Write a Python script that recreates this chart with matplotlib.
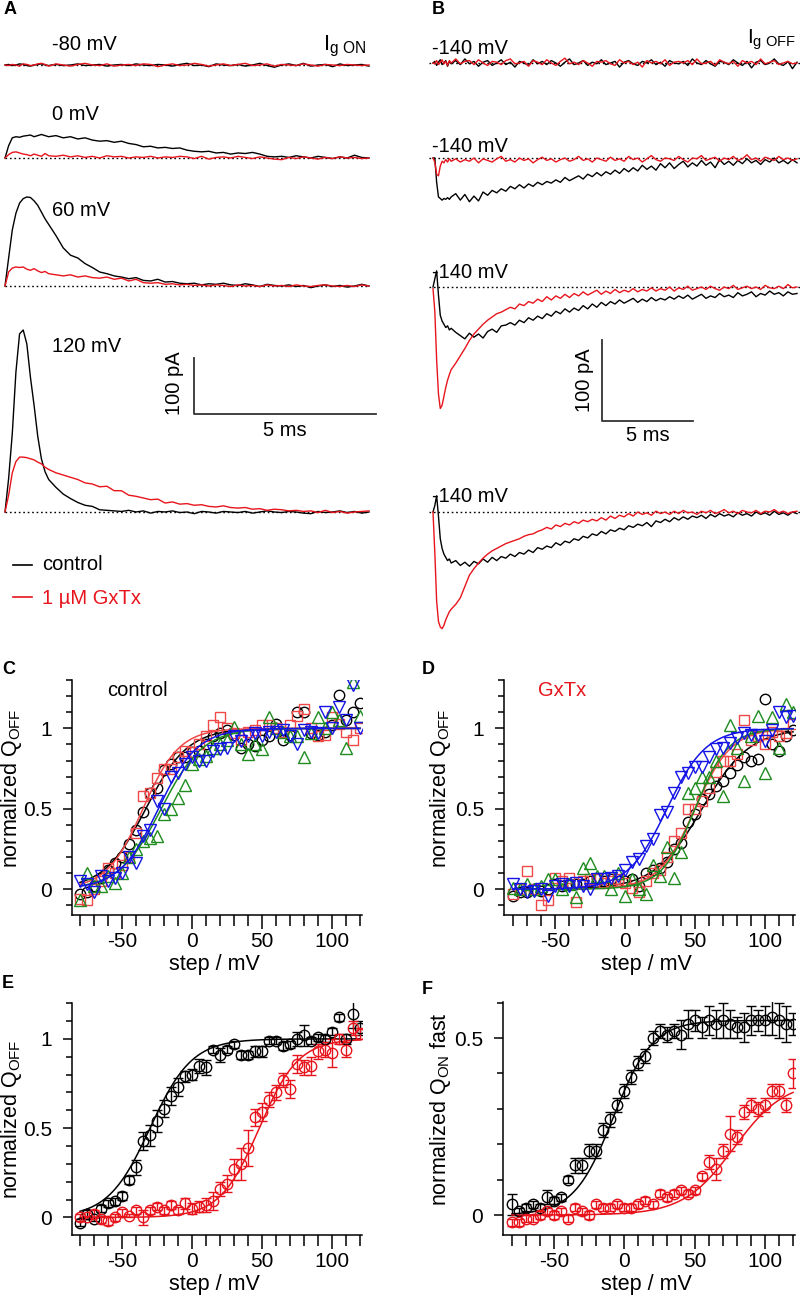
import numpy as np
import matplotlib
matplotlib.use("Agg")
import matplotlib.pyplot as plt
from matplotlib.lines import Line2D
from matplotlib.ticker import FixedLocator, MultipleLocator, FuncFormatter

plt.rcParams['font.family'] = ['Liberation Sans', 'DejaVu Sans']
plt.rcParams['mathtext.fontset'] = 'custom'
plt.rcParams['mathtext.rm'] = 'Liberation Sans'
plt.rcParams['mathtext.it'] = 'Liberation Sans:italic'
plt.rcParams['mathtext.bf'] = 'Liberation Sans:bold'
plt.rcParams['axes.unicode_minus'] = False

# ======================= DATA =======================
# ---- Panel A: gating currents ON (ms, pA) ----
tA = np.r_[np.arange(0, 1.25, 0.1), np.arange(1.4, 10.01, 0.2)]
A_labels = ['-80 mV', '0 mV', '60 mV', '120 mV']

A_m80_ctrl = [0, 1, -1, 0, 2, 1, -1, -2, 0, 1, 2, 0, -1,
              1, -1, 0, 2, -1, 0, 1, -2, 0, 1, -1, 2, 0, -1, 1, 0, -2, 1, 3, -1,
              0, -3, 2, 0, -1, 1, -2, 0, 3, -1, -4, 0, 2, -1, 3, -2, 0, 1, -3, 2,
              -1, 0, 1, -2]
A_m80_gx = [0, -1, 1, 0, -2, 2, 1, -1, 0, 2, 3, 1, -2,
            2, 0, -2, 1, 3, 0, -1, 2, -2, 0, 1, -1, 2, 1, -3, 0, 2, -1, 0, 3,
            1, -2, 0, 2, -1, 1, 3, -1, 0, 2, -2, 1, 0, -1, 2, 0, -2, 1, 0, -1,
            1, 0, -1, 0]
A_0_ctrl = [0, 22, 36, 38, 37, 39, 40, 41, 38, 40, 42, 40, 38,
            40, 36, 38, 34, 36, 32, 30, 31, 28, 30, 26, 24, 20, 21, 18, 19, 17,
            18, 14, 12, 11, 12, 9, 10, 7, 9, 8, 10, 7, 3, 2, 3, 1, 4, 2, 0, 3,
            1, -1, 2, 0, 5, 1, 0]
A_0_gx = [0, 6, 10, 11, 9, 7, 6, 4, 7, 5, 3, 8, 4,
          3, 5, 2, 4, 1, 3, 0, 4, 2, 3, 0, 2, 1, 3, 0, 2, 1, 3, 2, -1, 3, -2,
          1, 2, 0, 3, 1, -1, 2, 0, -2, -3, 1, -1, 2, 0, -2, 1, -1, 2, 0, 1, -1, 0]
A_60_ctrl = [0, 50, 100, 130, 148, 156, 159, 158, 152, 144, 132, 120, 110,
             90, 68, 55, 50, 40, 33, 25, 22, 18, 16, 13, 15, 10, 9, 12, 7, 8, 5,
             4, 5, 2, 4, 3, 5, 2, 1, 4, 2, -1, 3, 1, 0, 2, -1, 1, -3, 0, 2, -1,
             1, -2, 0, 3, 0]
A_60_gx = [0, 25, 32, 34, 33, 34, 30, 28, 31, 27, 24, 26, 22,
           20, 18, 20, 16, 18, 15, 14, 16, 12, 14, 9, 12, 6, 5, 6, 3, 4, 2, 3,
           1, 2, 0, 2, 1, -1, 2, 0, 1, -1, 2, 0, 1, -1, 2, 0, -1, 1, 2, 0, -1,
           1, -1, 2, 0]
A_120_ctrl = [0, 60, 140, 250, 318, 325, 300, 240, 190, 135, 95, 72, 58,
              44, 32, 24, 17, 12, 10, 4, 3, 2, 1, 3, 0, 2, -2, 1, 0, 2, -1, 0,
              -3, 1, 0, -2, 1, 0, -1, 1, -2, 0, 2, 0, -1, 1, 0, -2, -3, 1, -1,
              0, 2, -1, 1, -2, 0]
A_120_gx = [0, 30, 70, 90, 98, 98, 97, 95, 93, 89, 86, 80, 76,
            70, 66, 62, 58, 52, 50, 45, 46, 38, 38, 30, 28, 25, 22, 23, 16, 18,
            14, 15, 12, 13, 10, 9, 11, 8, 7, 8, 5, 6, 3, 5, 4, 2, 3, 1, 2, -1,
            3, -1, 1, -2, 0, 1, 2]

# ---- Panel B: gating currents OFF at -140 mV (ms, pA) ----
tB = np.r_[np.arange(0, 1.05, 0.1), np.arange(1.25, 20.01, 0.25)]
B_labels = ['-140 mV', '-140 mV', '-140 mV', '-140 mV']

B1_ctrl = [0, 2, -3, 1, 4, -2, 0, 3, -4, 2, -1,
           3, -2, 5, -1, 2, -4, 1, 3, -3, 0, 4, -2, 1, -5, 2, 0, -3, 4, -1, 2,
           -2, 3, 0, -4, 1, 5, -2, 0, 3, -3, 1, -1, 4, -2, 0, 2, -5, 1, 3, -1,
           -3, 2, 0, 4, -2, 1, -4, 3, 0, -1, 2, -3, 5, 0, -2, 3, -1, -4, 2, 1,
           -2, 4, 0, -3, 2, -6, 1, 3, -2, 0, 5, -1, -3, 2, -7, 1]
B1_gx = [0, -1, 3, -2, 1, 4, -1, 2, -3, 3, 0,
         5, -1, 2, 3, -2, 4, 0, -3, 2, 1, -2, 3, 5, -1, 0, 2, -4, 3, 1, -2,
         4, 0, -3, 2, 6, -1, 1, -2, 3, 0, -4, 2, 1, 3, -1, -3, 4, 0, 2, -2,
         1, -5, 3, 0, 2, -1, 4, -3, 1, 2, 0, 3, -2, 5, -1, 0, 2, -3, 4, 1,
         -1, 2, -4, 3, 0, 2, -2, 5, -1, 1, 3, -2, 0, 2, -1, 0]
B2_ctrl = [0, 0, -30, -48, -50, -52, -50, -51, -49, -51, -48,
           -44, -52, -45, -54, -47, -53, -42, -46, -40, -43,
           -38, -41, -35, -38, -33, -37, -32, -35, -30, -33,
           -29, -31, -27, -30, -24, -28, -25, -22, -26, -20,
           -23, -18, -22, -17, -20, -15, -19, -13, -17, -12,
           -16, -9, -14, -10, -15, -7, -12, -6, -13, -8,
           -4, -11, -6, -10, -3, -9, -5, -12, -2, -8,
           -4, -9, -3, -7, -1, -6, -3, -8, -2, -5,
           0, -6, -3, -7, -2, -6]
B2_gx = [0, -5, -20, -22, -10, -4, -6, -2, -5, -1, -4,
         -1, -5, -2, -4, 0, -6, -1, -3, -5, -1, 2, -4, -2, -5, 0, -3, -1, -6, -2, 1,
         -3, -1, -5, -2, 0, -4, -2, 2, -3, -1, -5, 0, -2, -4, 1, -3, -1, -4, 2, -2,
         0, -5, -1, 3, -2, -4, 0, -1, -3, 2, -2, -5, 0, -1, 3, -3, -1, 1, -4, 0,
         -2, 2, -3, -1, 4, -2, 0, -4, 1, -1, -3, 2, -2, 0, -3, -1]
B3_ctrl = [0, 10, 20, -10, -35, -42, -46, -50, -48, -53, -51,
           -56, -60, -64, -57, -62, -58, -63, -55, -52, -56,
           -48, -47, -44, -47, -41, -44, -38, -41, -36, -39,
           -33, -36, -30, -33, -27, -31, -26, -29, -23, -27,
           -21, -25, -19, -23, -18, -21, -16, -20, -17, -14,
           -19, -15, -18, -13, -17, -14, -16, -12, -15, -11,
           -14, -10, -15, -12, -9, -14, -11, -13, -8, -12,
           -10, -13, -7, -11, -9, -6, -12, -8, -10, -5,
           -9, -7, -11, -6, -9, -8]
B3_gx = [-2, -30, -90, -132, -150, -146, -135, -124, -115, -108, -102,
         -94, -85, -76, -66, -58, -52, -46, -41, -37, -33,
         -31, -28, -25, -27, -21, -23, -18, -20, -15, -18,
         -12, -16, -11, -14, -9, -13, -8, -11, -6, -10,
         -7, -4, -9, -5, -8, -3, -7, -4, -6, -2,
         -6, -3, -5, -1, -5, -2, -4, 0, -5, -1,
         -3, 1, -4, -2, 0, -3, 1, -2, -4, 0,
         -2, 2, -3, -1, 1, -2, 0, -3, 2, -1,
         -2, 1, -2, 3, -1, 0]
B4_ctrl = [0, 8, 20, -5, -33, -45, -52, -56, -60, -58, -63,
           -60, -66, -62, -67, -61, -64, -58, -62, -56, -60,
           -55, -57, -52, -55, -50, -52, -47, -50, -44, -46,
           -42, -44, -38, -41, -36, -38, -33, -35, -30, -32,
           -27, -29, -24, -27, -22, -24, -20, -22, -17, -19,
           -15, -17, -13, -18, -11, -13, -9, -12, -7, -10,
           -6, -9, -5, -7, -4, -8, -3, -6, -2, -5,
           -3, -6, -1, -4, -2, -5, 0, -3, -1, -4,
           1, -3, -1, -4, 0, -2]
B4_gx = [0, -50, -110, -135, -142, -144, -140, -133, -128, -123, -120,
         -114, -106, -92, -78, -70, -63, -57, -52, -48, -45,
         -42, -39, -37, -35, -33, -30, -28, -27, -24, -22,
         -19, -21, -16, -18, -14, -16, -12, -14, -10, -12,
         -9, -11, -7, -10, -5, -8, -4, -6, -2, -5,
         0, -3, -1, -4, 1, -2, 0, -3, 1, -2,
         2, -1, 0, -3, 1, -1, 2, -2, 0, 3,
         -1, 1, -2, 2, 0, -1, 2, -2, 1, 0,
         3, -1, 1, -2, 0, 1]

# ---- Panels C-F: Q-V data (mV, normalized) ----
V = np.arange(-80, 121, 5)

C_black = [-0.03, -0.02, 0.02, 0.07, 0.12, 0.16, 0.2, 0.28, 0.37, 0.48,
           0.6, 0.63, 0.74, 0.78, 0.82, 0.82, 0.85, 0.86, 0.9, 0.95,
           0.97, 0.99, 0.96, 0.88, 0.9, 0.89, 0.93, 0.95, 1.03, 0.93,
           0.96, 1.1, 1.1, 0.97, 0.96, 0.98, 1.02, 1.21, 1.05, 1.1, 1.16]
C_red = [-0.06, -0.07, 0.0, 0.05, 0.13, 0.1, 0.15, 0.2, 0.35, 0.58,
         0.6, 0.69, 0.75, 0.75, 0.82, 0.86, 0.85, 0.9, 0.95, 1.02,
         1.07, 1.0, 0.97, 0.93, 0.98, 0.99, 1.02, 1.02, 1.0, 0.98,
         1.02, 1.08, 1.12, 1.0, 0.95, 0.96, 1.07, 1.03, 0.98, 0.93, 1.0]
C_green = [-0.07, 0.1, 0.02, 0.02, 0.08, 0.04, 0.1, 0.2, 0.25, 0.3,
           0.32, 0.33, 0.47, 0.5, 0.57, 0.65, 0.78, 0.81, 0.83, 0.88,
           0.9, 0.93, 1.01, 0.9, 0.84, 0.9, 0.87, 1.07, 1.0, 0.98,
           0.95, 0.95, 0.82, 0.97, 1.07, 1.0, 1.1, 1.05, 0.88, 1.29, 1.08]
C_blue = [0.05, 0.03, -0.02, 0.08, 0.05, 0.07, 0.1, 0.2, 0.16, 0.33,
          0.37, 0.55, 0.5, 0.7, 0.72, 0.78, 0.82, 0.8, 0.8, 0.86,
          0.87, 0.88, 0.95, 0.92, 0.95, 0.97, 0.95, 0.98, 0.98, 0.99,
          0.95, 0.9, 0.99, 0.98, 0.97, 1.1, 1.0, 1.13, 1.05, 1.27, 1.0]
C_vhalf = [-33, -35, -22, -24]
C_slope = [15, 13, 15, 14]

D_black = [-0.04, -0.02, -0.02, 0.0, -0.01, 0.0, 0.03, 0.02, 0.03, 0.03,
           0.03, 0.05, 0.07, 0.05, 0.06, 0.05, 0.05, 0.06, 0.02, 0.1,
           0.12, 0.13, 0.17, 0.25, 0.29, 0.42, 0.47, 0.56, 0.59, 0.64,
           0.67, 0.72, 0.77, 0.82, 0.8, 0.81, 1.18, 0.9, 0.86, 0.95, 0.99]
D_red = [-0.03, 0.0, 0.11, 0.0, -0.1, -0.07, 0.07, 0.05, 0.07, -0.08,
         0.05, 0.06, 0.06, 0.04, 0.05, 0.06, 0.04, 0.01, -0.02, 0.05,
         0.1, 0.12, 0.2, 0.3, 0.35, 0.5, 0.5, 0.55, 0.63, 0.73,
         0.8, 0.8, 0.84, 1.05, 0.93, 0.95, 0.9, 0.98, 0.95, 0.97, 1.03]
D_green = [0.01, 0.0, 0.03, 0.0, 0.02, 0.06, 0.06, 0.0, 0.03, -0.05,
           0.13, 0.16, 0.08, 0.08, 0.0, 0.1, -0.04, 0.06, 0.0, -0.03,
           0.15, 0.08, 0.26, 0.07, 0.23, 0.6, 0.63, 0.7, 0.7, 0.8,
           0.58, 1.02, 0.88, 0.67, 0.95, 1.08, 0.72, 1.07, 0.88, 1.15, 1.1]
D_blue = [0.03, 0.0, -0.02, -0.01, 0.0, -0.04, 0.02, 0.03, 0.02, 0.04,
          0.02, 0.0, 0.06, 0.06, 0.07, 0.08, 0.12, 0.17, 0.19, 0.27,
          0.31, 0.46, 0.48, 0.6, 0.7, 0.72, 0.76, 0.76, 0.82, 0.87,
          0.88, 0.91, 0.94, 0.97, 0.96, 0.96, 0.92, 0.99, 1.1, 1.07, 1.08]
D_vhalf = [55, 50, 50, 30]
D_slope = [17, 13, 12, 14]

E_ctrl = [-0.03, 0.02, -0.01, 0.05, 0.08, 0.09, 0.12, 0.21, 0.28, 0.43,
          0.46, 0.54, 0.61, 0.68, 0.73, 0.79, 0.8, 0.85, 0.84, 0.94,
          0.91, 0.94, 0.97, 0.91, 0.91, 0.93, 0.93, 0.99, 0.99, 0.96,
          0.97, 1.0, 1.02, 0.99, 1.01, 1.0, 1.04, 1.12, 1.0, 1.14, 1.06]
E_ctrl_err = [0.02, 0.02, 0.01, 0.02, 0.02, 0.02, 0.02, 0.02, 0.04, 0.05,
              0.06, 0.06, 0.05, 0.05, 0.05, 0.03, 0.03, 0.04, 0.04, 0.02,
              0.04, 0.02, 0.02, 0.02, 0.02, 0.03, 0.03, 0.02, 0.02, 0.02,
              0.02, 0.04, 0.06, 0.02, 0.02, 0.02, 0.02, 0.02, 0.03, 0.08, 0.04]
E_gx = [0.0, 0.0, 0.02, -0.01, -0.02, 0.0, 0.03, 0.01, 0.04, 0.0,
        0.04, 0.06, 0.04, 0.07, 0.04, 0.08, 0.05, 0.06, 0.07, 0.09,
        0.16, 0.19, 0.27, 0.3, 0.39, 0.56, 0.59, 0.66, 0.7, 0.77,
        0.72, 0.86, 0.84, 0.85, 0.93, 0.94, 0.92, 1.0, 0.94, 1.06, 1.03]
E_gx_err = [0.02, 0.01, 0.02, 0.02, 0.02, 0.02, 0.02, 0.01, 0.02, 0.04,
            0.02, 0.02, 0.02, 0.02, 0.02, 0.03, 0.03, 0.03, 0.04, 0.05,
            0.04, 0.05, 0.06, 0.09, 0.1, 0.05, 0.05, 0.04, 0.04, 0.04,
            0.05, 0.05, 0.04, 0.05, 0.04, 0.04, 0.08, 0.03, 0.04, 0.04, 0.03]
E_vhalf = [-30, 48]
E_slope = [15, 14]

F_ctrl = [0.03, 0.01, 0.02, 0.03, 0.02, 0.05, 0.04, 0.05, 0.1, 0.14,
          0.14, 0.18, 0.18, 0.24, 0.27, 0.31, 0.35, 0.39, 0.43, 0.45,
          0.5, 0.52, 0.51, 0.52, 0.51, 0.54, 0.55, 0.53, 0.55, 0.54,
          0.55, 0.54, 0.53, 0.53, 0.55, 0.55, 0.55, 0.56, 0.55, 0.54, 0.54]
F_ctrl_err = [0.03, 0.01, 0.01, 0.01, 0.01, 0.02, 0.01, 0.01, 0.01, 0.02,
              0.02, 0.02, 0.02, 0.02, 0.02, 0.02, 0.02, 0.02, 0.02, 0.02,
              0.02, 0.02, 0.02, 0.02, 0.04, 0.04, 0.03, 0.03, 0.04, 0.04,
              0.05, 0.04, 0.03, 0.04, 0.04, 0.03, 0.04, 0.05, 0.05, 0.05, 0.03]
F_gx = [-0.02, -0.02, -0.01, -0.01, 0.0, 0.01, 0.0, 0.01, -0.01, 0.02,
        0.01, 0.0, 0.03, 0.02, 0.02, 0.03, 0.02, 0.02, 0.03, 0.04,
        0.03, 0.06, 0.05, 0.06, 0.07, 0.06, 0.07, 0.11, 0.15, 0.13,
        0.18, 0.23, 0.22, 0.29, 0.31, 0.3, 0.31, 0.35, 0.35, 0.31, 0.4]
F_gx_err = [0.01, 0.01, 0.01, 0.01, 0.01, 0.01, 0.01, 0.01, 0.01, 0.01,
            0.01, 0.01, 0.01, 0.01, 0.01, 0.01, 0.01, 0.01, 0.01, 0.01,
            0.01, 0.01, 0.01, 0.01, 0.01, 0.01, 0.01, 0.01, 0.02, 0.03,
            0.02, 0.05, 0.02, 0.02, 0.02, 0.02, 0.02, 0.02, 0.02, 0.02, 0.04]
F_amp = [0.55, 0.38]
F_vhalf = [-8, 78]
F_slope = [14, 18]

# ======================= STYLE / LAYOUT =======================
RED = '#e8141c'
SQ_RED = '#f04848'
GREEN = '#1e8c1e'
BLUE = '#1414e6'
FS = 14.5
TFS = 15
LFS = 15.5

W, H = 800, 1297
fig = plt.figure(figsize=(W / 100, H / 100), dpi=100)


def add_ax(x0, y0, x1, y1):
    return fig.add_axes([x0 / W, 1 - y1 / H, (x1 - x0) / W, (y1 - y0) / H])


def ftext(x, y, s, **kw):
    return fig.text(x / W, 1 - y / H, s, **kw)


def boltz(v, amp, vh, k):
    return amp / (1 + np.exp(-(v - vh) / k))


DOT = (0, (1.2, 2.0))

# ---------------- Panel A ----------------
A_ms_px, A_pA_px, A_x0, A_top, A_bot = 36.4, 0.56, 5, 20, 650
axA = add_ax(0, A_top, 400, A_bot)
axA.set_xlim(-A_x0 / A_ms_px, (400 - A_x0) / A_ms_px)
axA.set_ylim(0, (A_bot - A_top) / A_pA_px)
axA.axis('off')
A_base_px = [65, 158, 286, 512]
A_lab_px = [45, 115, 211, 346]
A_ctrl = [A_m80_ctrl, A_0_ctrl, A_60_ctrl, A_120_ctrl]
A_gx = [A_m80_gx, A_0_gx, A_60_gx, A_120_gx]
for base, c, g, lab, ly in zip(A_base_px, A_ctrl, A_gx, A_labels, A_lab_px):
    off = (A_bot - base) / A_pA_px
    axA.plot([0, 10], [off, off], ls=DOT, color='k', lw=1.0)
    axA.plot(tA, off + np.array(c), color='k', lw=1.0)
    axA.plot(tA, off + np.array(g), color=RED, lw=1.0)
    ftext(52, ly, lab, fontsize=FS, va='center', ha='left')
# scale bar A
sbx = (194 - A_x0) / A_ms_px
sby = (A_bot - 414) / A_pA_px
axA.plot([sbx, sbx, sbx + 5], [sby + 100, sby, sby], color='#333333', lw=1.3)
ftext(175, 383, '100 pA', fontsize=FS, rotation=90, ha='center', va='center')
ftext(285, 430, '5 ms', fontsize=FS, ha='center', va='center')
ftext(366, 46, r'I$_{\mathrm{g\ ON}}$', fontsize=16, ha='right', va='center')

# legend
fig.add_artist(Line2D([13 / W, 32 / W], [1 - 565 / H] * 2, color='k', lw=1.2))
fig.add_artist(Line2D([13 / W, 32 / W], [1 - 597 / H] * 2, color=RED, lw=1.2))
ftext(42, 565, 'control', fontsize=FS, va='center', ha='left')
ftext(42, 598, '1 µM GxTx', fontsize=FS, va='center', ha='left', color=RED)

# ---------------- Panel B ----------------
B_ms_px, B_pA_px, B_x0, B_top, B_bot = 18.2, 0.81, 433, 20, 650
axB = add_ax(400, B_top, 800, B_bot)
axB.set_xlim((400 - B_x0) / B_ms_px, (800 - B_x0) / B_ms_px)
axB.set_ylim(0, (B_bot - B_top) / B_pA_px)
axB.axis('off')
B_base_px = [63, 158, 287, 512]
B_lab_px = [48, 146, 272, 496]
B_ctrl = [B1_ctrl, B2_ctrl, B3_ctrl, B4_ctrl]
B_gx = [B1_gx, B2_gx, B3_gx, B4_gx]
for base, c, g, lab, ly in zip(B_base_px, B_ctrl, B_gx, B_labels, B_lab_px):
    off = (B_bot - base) / B_pA_px
    axB.plot([-0.2, 20.2], [off, off], ls=DOT, color='k', lw=1.0)
    axB.plot(tB, off + np.array(c), color='k', lw=1.0)
    axB.plot(tB, off + np.array(g), color=RED, lw=1.0)
    ftext(432, ly, lab, fontsize=FS, va='center', ha='left')
sbx = (602 - B_x0) / B_ms_px
sby = (B_bot - 421) / B_pA_px
axB.plot([sbx, sbx, sbx + 5], [sby + 100, sby, sby], color='#333333', lw=1.3)
ftext(584, 380, '100 pA', fontsize=FS, rotation=90, ha='center', va='center')
ftext(648, 435, '5 ms', fontsize=FS, ha='center', va='center')
ftext(796, 40, r'I$_{\mathrm{g\ OFF}}$', fontsize=15, ha='right', va='center')

# ---------------- panel letters ----------------
for lx, ly, L in [(4, 10, 'A'), (432, 9, 'B'), (2, 669, 'C'), (422, 669, 'D'),
                  (2, 983, 'E'), (422, 989, 'F')]:
    ftext(lx, ly, L, fontsize=13, fontweight='bold', va='center', ha='left')

# ---------------- scatter panels ----------------
fmt = FuncFormatter(lambda v, p: f'{v:g}')


def setup(ax, ylim, ymaj, ylab, ylab_xy, xlim=(-86.4, 121.4)):
    ax.set_xlim(*xlim)
    ax.set_ylim(*ylim)
    for s in ['top', 'right']:
        ax.spines[s].set_visible(False)
    for s in ['left', 'bottom']:
        ax.spines[s].set_linewidth(1.1)
    ax.xaxis.set_major_locator(FixedLocator([-50, 0, 50, 100]))
    ax.xaxis.set_minor_locator(MultipleLocator(10))
    ax.yaxis.set_major_locator(FixedLocator(ymaj))
    ax.yaxis.set_minor_locator(MultipleLocator(0.1))
    ax.xaxis.set_major_formatter(fmt)
    ax.yaxis.set_major_formatter(fmt)
    ax.tick_params(axis='x', which='major', length=10, width=1.1, pad=2, labelsize=TFS)
    ax.tick_params(axis='x', which='minor', length=8, width=1.1)
    ax.tick_params(axis='y', which='major', length=6.5, width=1.1, pad=8, labelsize=TFS)
    ax.tick_params(axis='y', which='minor', length=4.5, width=1.1)
    ax.set_xlabel('step / mV', fontsize=LFS)
    ax.xaxis.set_label_coords(0.49, -0.168)
    ax.set_ylabel(ylab, fontsize=LFS)
    ax.yaxis.set_label_coords(*ylab_xy)


vv = np.linspace(-80, 120, 300)
mk = dict(ls='none', mfc='none', mew=1.0)

# C
axC = add_ax(72, 680, 362, 915)
setup(axC, (-0.161, 1.301), [0, 0.5, 1], r'normalized Q$_{\mathrm{OFF}}$', (-0.165, 0.54),
      xlim=(-85.7, 121.4))
for ys, col, m, ms, vh, k in zip([C_black, C_red, C_green, C_blue],
                                  ['k', SQ_RED, GREEN, BLUE],
                                  ['o', 's', '^', 'v'], [7.5, 7.5, 8.5, 8.5],
                                  C_vhalf, C_slope):
    axC.plot(vv, boltz(vv, 1, vh, k), color=col, lw=1.1)
    axC.plot(V, ys, marker=m, mec=col, ms=ms, **mk)
ftext(107, 690, 'control', fontsize=FS, va='center', ha='left')

# D
axD = add_ax(504, 680, 795, 915)
setup(axD, (-0.161, 1.301), [0, 0.5, 1], r'normalized Q$_{\mathrm{OFF}}$', (-0.175, 0.54))
for ys, col, m, ms, vh, k in zip([D_black, D_red, D_green, D_blue],
                                  ['k', SQ_RED, GREEN, BLUE],
                                  ['o', 's', '^', 'v'], [7.5, 7.5, 8.5, 8.5],
                                  D_vhalf, D_slope):
    axD.plot(vv, boltz(vv, 1, vh, k), color=col, lw=1.1)
    axD.plot(V, ys, marker=m, mec=col, ms=ms, **mk)
ftext(538, 690, 'GxTx', fontsize=FS, va='center', ha='left', color=RED)

# E
axE = add_ax(72, 1003, 362, 1235)
setup(axE, (-0.098, 1.201), [0, 0.5, 1], r'normalized Q$_{\mathrm{OFF}}$', (-0.165, 0.50),
      xlim=(-85.7, 121.4))
for ys, es, col, vh, k in zip([E_ctrl, E_gx], [E_ctrl_err, E_gx_err], ['k', RED],
                              E_vhalf, E_slope):
    axE.plot(vv, boltz(vv, 1, vh, k), color=col, lw=1.1)
    axE.errorbar(V, ys, yerr=es, fmt='o', mfc='none', mec=col, ecolor=col, ms=7.5,
                 mew=1.0, elinewidth=1.0, capsize=3.5, capthick=1.0)

# F
axF = add_ax(503, 1002, 795, 1235)
setup(axF, (-0.0565, 0.602), [0, 0.5], r'normalized Q$_{\mathrm{ON}}$ fast', (-0.171, 0.54))
for ys, es, col, a, vh, k in zip([F_ctrl, F_gx], [F_ctrl_err, F_gx_err], ['k', RED],
                                 F_amp, F_vhalf, F_slope):
    axF.plot(vv, boltz(vv, a, vh, k), color=col, lw=1.1)
    axF.errorbar(V, ys, yerr=es, fmt='o', mfc='none', mec=col, ecolor=col, ms=7.5,
                 mew=1.0, elinewidth=1.0, capsize=3.5, capthick=1.0)

fig.savefig('out.png', dpi=100)
